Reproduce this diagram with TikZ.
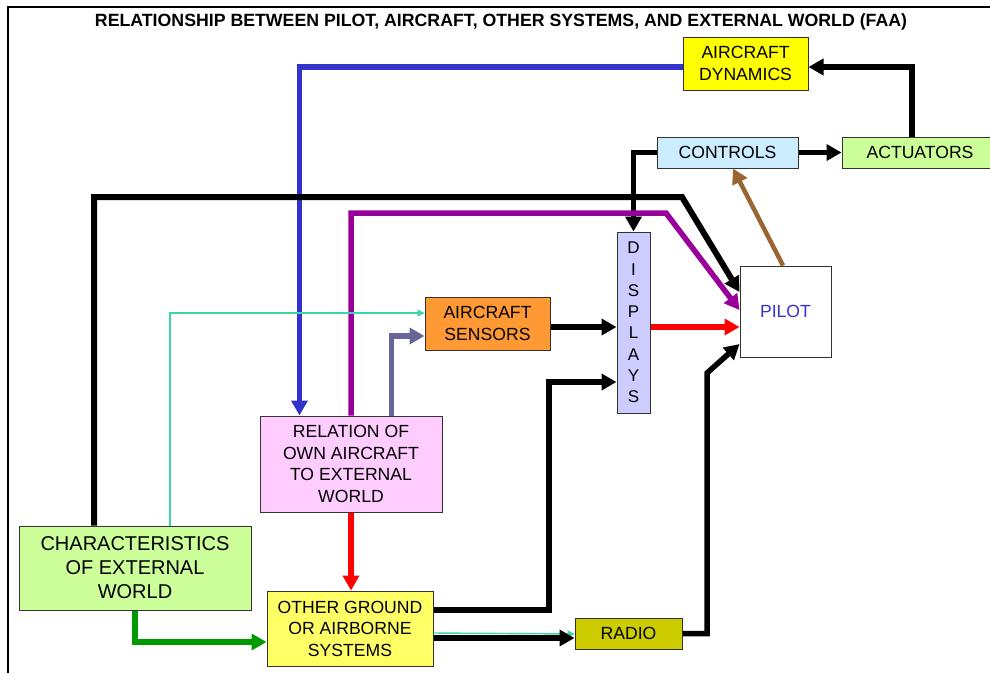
\documentclass[tikz,border=0pt]{standalone}
\usepackage{fontspec}
\setmainfont{Liberation Sans}
\usetikzlibrary{arrows.meta}

\definecolor{dynfill}{HTML}{FFFF00}
\definecolor{ctrlfill}{HTML}{CCECFF}
\definecolor{greenfill}{HTML}{CCFF99}
\definecolor{dispfill}{HTML}{CCCCFF}
\definecolor{sensfill}{HTML}{FF9933}
\definecolor{relfill}{HTML}{FFCCFF}
\definecolor{otherfill}{HTML}{FFFF66}
\definecolor{radiofill}{HTML}{CCCC00}
\definecolor{boxline}{HTML}{333333}
\definecolor{pilottext}{HTML}{3333CC}
\definecolor{bluelink}{HTML}{3333CC}
\definecolor{purplelink}{HTML}{990099}
\definecolor{slatelink}{HTML}{666699}
\definecolor{minthlink}{HTML}{3CD6A6}
\definecolor{greenlink}{HTML}{009900}
\definecolor{redlink}{HTML}{FF0000}
\definecolor{brownlink}{HTML}{996633}

\tikzset{
  blk/.style={draw=boxline, line width=1pt, align=center, inner sep=0pt,
    font=\fontsize{17.6}{21.5}\selectfont},
  flow/.style={line width=5.5pt, -{Triangle[length=15pt,width=16pt]}},
  thinflow/.style={line width=1.4pt, -{Triangle[length=7pt,width=7pt]}},
}

\begin{document}
\begin{tikzpicture}[x=1pt,y=-1pt]
\useasboundingbox (0,0) rectangle (990,673);

% page frame
\draw[line width=2.5pt] (8,673) -- (8,7) -- (992,7);

% title
\node[font=\bfseries\fontsize{17}{19}\selectfont] (title) at (501,22)
  {\resizebox{812pt}{!}{RELATIONSHIP BETWEEN PILOT, AIRCRAFT, OTHER SYSTEMS, AND EXTERNAL WORLD (FAA)}};

% blocks
\node[blk, fill=dynfill, minimum width=125pt, minimum height=53pt] (dyn) at (745.5,63.5) {AIRCRAFT\\DYNAMICS};
\node[blk, fill=ctrlfill, minimum width=141pt, minimum height=31pt] (ctrl) at (727.5,152.5) {CONTROLS};
\node[blk, fill=greenfill, minimum width=156pt, minimum height=31pt] (act) at (920,152.5) {ACTUATORS};
\node[blk, fill=dispfill, minimum width=33pt, minimum height=181pt,
  font=\fontsize{17}{21.3}\selectfont] (disp) at (633.5,322.5) {D\\I\\S\\P\\L\\A\\Y\\S};
\node[blk, fill=white, minimum width=91pt, minimum height=91pt, text=pilottext] (pilot) at (785.5,311.5) {PILOT};
\node[blk, fill=sensfill, minimum width=125pt, minimum height=53pt] (sens) at (487.5,323.5) {AIRCRAFT\\SENSORS};
\node[blk, fill=relfill, minimum width=182pt, minimum height=96pt] (rel) at (351,464) {RELATION OF\\OWN AIRCRAFT\\TO EXTERNAL\\WORLD};
\node[blk, fill=greenfill, minimum width=232pt, minimum height=84pt,
  font=\fontsize{20}{24}\selectfont] (chars) at (135,568) {CHARACTERISTICS\\OF EXTERNAL\\WORLD};
\node[blk, fill=otherfill, minimum width=166pt, minimum height=75pt] (other) at (350,628.5) {OTHER GROUND\\OR AIRBORNE\\SYSTEMS};
\node[blk, fill=radiofill, minimum width=107pt, minimum height=31pt] (radio) at (628.5,633.5) {RADIO};

% bend points
\coordinate (bendA) at (682,197);
\coordinate (bendB) at (666,213);
\coordinate (bendC) at (549,382);
\coordinate (bendD) at (707,373);

% connectors
\draw[flow, bluelink] ([yshift=-3.5pt]dyn.west) -| ([xshift=40pt]rel.north west);
\draw[flow] ([xshift=-8pt]act.north) |- ([yshift=-3.5pt]dyn.east);
\draw[flow] (ctrl.east) -- (act.west);
\draw[flow] (ctrl.west) -| (disp.north);
\draw[flow, brownlink, line width=4.5pt] ([xshift=-2.5pt]pilot.north) -- ([xshift=5.5pt]ctrl.south);
\draw[flow, line width=6pt] ([xshift=-41pt]chars.north) |- (bendA) -- ([yshift=19.5pt]pilot.west);
\draw[flow, purplelink, line join=miter] (rel.north) |- (bendB) -- ([yshift=1.5pt]pilot.west);
\draw[thinflow, minthlink] ([xshift=35pt]chars.north) |- ([yshift=10.5pt]sens.west);
\draw[flow, slatelink] ([xshift=132pt]rel.north west) |- ([yshift=-12.5pt]sens.west);
\draw[flow] ([yshift=-3.5pt]sens.east) -- ([yshift=-4.5pt]disp.west);
\draw[flow, redlink] ([yshift=-4.5pt]disp.east) -- ([yshift=-15.5pt]pilot.west);
\draw[flow] ([yshift=18.5pt]other.east) -| (bendC) -- (bendC -| disp.west);
\draw[thinflow, minthlink] ([yshift=-4.5pt]other.east) -- ([yshift=-0.5pt]radio.west);
\draw[flow] ([yshift=-9.5pt]other.east) -- ([yshift=-4.5pt]radio.west);
\draw[flow] (radio.east) -| (bendD) -- ([yshift=-32.5pt]pilot.west);
\draw[flow, redlink] (rel.south) -- (rel.south |- other.north);
\draw[flow, greenlink] (chars.south) |- ([yshift=-13.5pt]other.west);

\end{tikzpicture}
\end{document}
